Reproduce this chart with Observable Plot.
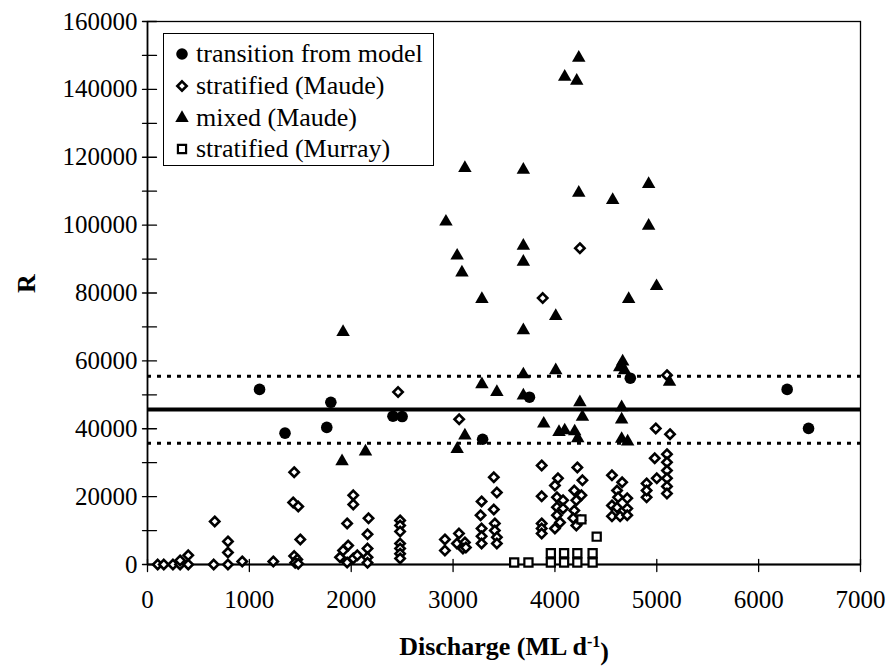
<!DOCTYPE html>
<html><head><meta charset="utf-8">
<script src="https://cdn.jsdelivr.net/npm/d3@7"></script>
<script src="https://cdn.jsdelivr.net/npm/@observablehq/plot@0.6"></script>
<style>
body{margin:0;background:#fff;}
#wrap{position:relative;width:887px;height:667px;}
#legend{position:absolute;left:163px;top:33px;width:269px;height:131px;border:1.5px solid #000;background:#fff;font-family:"Liberation Serif","Times New Roman",serif;font-size:26px;color:#000;}
.row{position:absolute;left:0;height:32px;display:flex;align-items:center;white-space:nowrap;}
.row svg{margin-left:10px;margin-right:6px;}
</style>
</head><body>
<div id="wrap"><div id="legend"></div></div>
<script>
// ---- data ----
const transX = [1100, 1350, 1760, 1800, 2410, 2500, 3290, 3750, 4740, 6280, 6490];
const transR = [51600, 38700, 40400, 47800, 43700, 43600, 36900, 49300, 54900, 51600, 40100];

const mixedX = [1920, 1910, 2140, 2930, 3040, 3087, 3116, 3040, 3116, 3283, 3283, 3430,
  3690, 3690, 3690, 3690, 3690, 3690, 3890, 4008, 4008, 4040, 4096, 4096, 4214, 4234,
  4234, 4194, 4224, 4245, 4270, 4567, 4636, 4665, 4684, 4655, 4655, 4655, 4714, 4724,
  4920, 4920, 4998, 5125];
const mixedR = [68500, 30400, 33300, 101000, 91000, 86000, 116800, 34000, 38000, 78200, 53100, 50800,
  116300, 93900, 89200, 69000, 56000, 49800, 41500, 73200, 57200, 39000, 39500, 143700, 142500, 149300,
  109500, 39200, 37200, 47800, 43500, 107400, 58100, 59800, 57200, 46300, 42700, 37000, 36200, 78200,
  112100, 99800, 82000, 53800];

const maudeX = [100, 160, 250, 320, 400, 320, 400,
  660, 650, 790, 790, 790, 930, 1235,
  1440, 1430, 1480, 1500, 1440, 1470, 1450, 1480,
  2020, 2020, 1960, 2170, 2160, 2160, 2160, 2160, 1920, 1970, 1890, 2020, 1960, 2060,
  2460, 2480, 2480, 2480, 2480, 2480, 2480, 2480,
  2920, 2920, 3058, 3038, 3116, 3097, 3126, 3060,
  3400, 3430, 3280, 3400, 3270, 3280, 3280, 3280, 3410, 3410, 3430, 3430,
  3880, 3870, 3870, 3870, 3870, 3870,
  4030, 4220, 4270, 4000, 4020, 4080, 4020, 4080, 4020, 4050, 4000, 4190, 4210, 4260, 4190, 4180, 4250, 4210, 4245,
  4560, 4660, 4610, 4620, 4710, 4560, 4610, 4710, 4560, 4640, 4710,
  4990, 5130, 4980, 5100, 5100, 5100, 5100, 5100, 5100, 5000, 4900, 4900, 4900, 5100];
const maudeR = [0, 0, 0, 0, 0, 1200, 2700,
  12700, 0, 6800, 3500, 0, 900, 900,
  27200, 18300, 17100, 7400, 2500, 1500, 500, 200,
  20400, 17700, 12100, 13600, 8900, 4700, 2100, 500, 4100, 5600, 2100, 1800, 600, 2700,
  50800, 13000, 11500, 9700, 6200, 4700, 3200, 1800,
  7400, 4100, 9100, 6200, 6500, 4700, 5000, 42800,
  25700, 21200, 18600, 16200, 14500, 10600, 8300, 6200, 12100, 10000, 8000, 6200,
  78500, 29200, 20100, 12100, 10600, 9100,
  25400, 28600, 24800, 23300, 19800, 18900, 16900, 16500, 14500, 12400, 10600, 21800, 18900, 20400, 15900, 13600, 13000, 11500, 93200,
  26300, 24200, 21800, 19800, 19500, 17400, 16800, 16500, 14200, 14200, 14500,
  40100, 38400, 31300, 32500, 30100, 27700, 25400, 23000, 20900, 25400, 23900, 19800, 21800, 55800];

const murrayX = [3600, 3740, 3960, 3960, 4090, 4090, 4220, 4220, 4370, 4370, 4260, 4410];
const murrayR = [600, 600, 600, 3300, 600, 3300, 600, 3300, 600, 3300, 13300, 8200];

const meanR = 45700, upperR = 55500, lowerR = 35700;

const xTicks = [0, 1000, 2000, 3000, 4000, 5000, 6000, 7000];
const yTicks = [0, 20000, 40000, 60000, 80000, 100000, 120000, 140000, 160000];
const yMinor = [0, 10000, 20000, 30000, 40000, 50000, 60000, 70000, 80000, 90000, 100000, 110000, 120000, 130000, 140000, 150000, 160000];

const seriesNames = ["transition from model", "stratified (Maude)", "mixed (Maude)", "stratified (Murray)"];
const xTitle = "Discharge (ML d-1)";
const yTitle = "R";

const toRows = (X, R) => X.map((x, i) => ({x, r: R[i]}));
const trans = toRows(transX, transR);
const mixed = toRows(mixedX, mixedR);
const maude = toRows(maudeX, maudeR);
const murray = toRows(murrayX, murrayR);

const font = '"Liberation Serif","Times New Roman",serif';
const tickShape = {draw(context, l) { context.moveTo(0, 0); context.lineTo(0, -l); }};

const chart = Plot.plot({
  width: 887, height: 667,
  marginLeft: 147, marginRight: 27, marginTop: 21, marginBottom: 103,
  x: {domain: [0, 7000]},
  y: {domain: [0, 160000]},
  style: {fontFamily: font, fontSize: "25px", color: "#000", background: "#fff"},
  marks: [
    Plot.frame({stroke: "#000", strokeWidth: 1.3}),
    Plot.ruleY([0], {stroke: "#000", strokeWidth: 2}),
    Plot.ruleX([0], {stroke: "#000", strokeWidth: 1.6}),
    Plot.vector(yMinor, {y: d => d, frameAnchor: "left", rotate: 90, length: 14, anchor: "middle", dx: 2, shape: tickShape, stroke: "#000", strokeWidth: 1.3}),
    Plot.vector(xTicks, {x: d => d, frameAnchor: "bottom", rotate: 0, length: 12, anchor: "middle", dy: 1, shape: tickShape, stroke: "#000", strokeWidth: 1.3}),
    Plot.axisX(xTicks, {tickSize: 0, tickPadding: 26, label: null, fontSize: 25, tickFormat: d => String(d)}),
    Plot.axisY(yTicks, {tickSize: 0, tickPadding: 10, label: null, fontSize: 25, tickFormat: d => String(d)}),
    Plot.ruleY([meanR], {stroke: "#000", strokeWidth: 4}),
    Plot.ruleY([upperR, lowerR], {stroke: "#000", strokeWidth: 3, strokeDasharray: "4,6"}),
    Plot.dot(maude, {x: "x", y: "r", symbol: "diamond2", r: 4.2, stroke: "#000", strokeWidth: 2.6, fill: "#fff"}),
    Plot.dot(murray, {x: "x", y: "r", symbol: "square", r: 4.6, stroke: "#000", strokeWidth: 2.2, fill: "#fff"}),
    Plot.dot(mixed, {x: "x", y: "r", symbol: "triangle", r: 5, fill: "#000", stroke: "none"}),
    Plot.dot(trans, {x: "x", y: "r", symbol: "circle", r: 5.8, fill: "#000", stroke: "none"}),
    Plot.text([xTitle], {frameAnchor: "bottom", dy: 82, lineAnchor: "middle", fontWeight: "bold", fontSize: 26, fill: "#000"}),
    Plot.text([yTitle], {frameAnchor: "left", dx: -121, rotate: -90, lineAnchor: "middle", fontWeight: "bold", fontSize: 26, fill: "#000"})
  ]
});

// superscript for the unit
chart.querySelectorAll("text").forEach(t => {
  if (t.textContent === xTitle) {
    while (t.firstChild) t.removeChild(t.firstChild);
    const ns = "http://www.w3.org/2000/svg";
    t.appendChild(document.createTextNode("Discharge (ML d"));
    const sup = document.createElementNS(ns, "tspan");
    sup.setAttribute("dy", "-0.5em"); sup.setAttribute("font-size", "16");
    sup.textContent = "-1";
    t.appendChild(sup);
    const close = document.createElementNS(ns, "tspan");
    close.setAttribute("dy", "0.5em");
    close.textContent = ")";
    t.appendChild(close);
  }
});

document.getElementById("wrap").prepend(chart);

// legend
const legend = document.getElementById("legend");
const symbols = [
  {type: d3.symbolCircle, r: 5.8, fill: "#000", stroke: "none", sw: 0},
  {type: d3.symbolDiamond2, r: 4.2, fill: "#fff", stroke: "#000", sw: 2.6},
  {type: d3.symbolTriangle, r: 5, fill: "#000", stroke: "none", sw: 0},
  {type: d3.symbolSquare, r: 4.6, fill: "#fff", stroke: "#000", sw: 2.2}
];
const rowTops = [4, 36, 68, 99];
seriesNames.forEach((name, i) => {
  const s = symbols[i];
  const row = document.createElement("div");
  row.className = "row";
  row.style.top = rowTops[i] + "px";
  const path = d3.symbol(s.type, Math.PI * s.r * s.r)();
  row.innerHTML = `<svg width="16" height="16" viewBox="-8 -8 16 16"><path d="${path}" fill="${s.fill}" stroke="${s.stroke}" stroke-width="${s.sw}"/></svg><span>${name}</span>`;
  legend.appendChild(row);
});
</script>
</body></html>
